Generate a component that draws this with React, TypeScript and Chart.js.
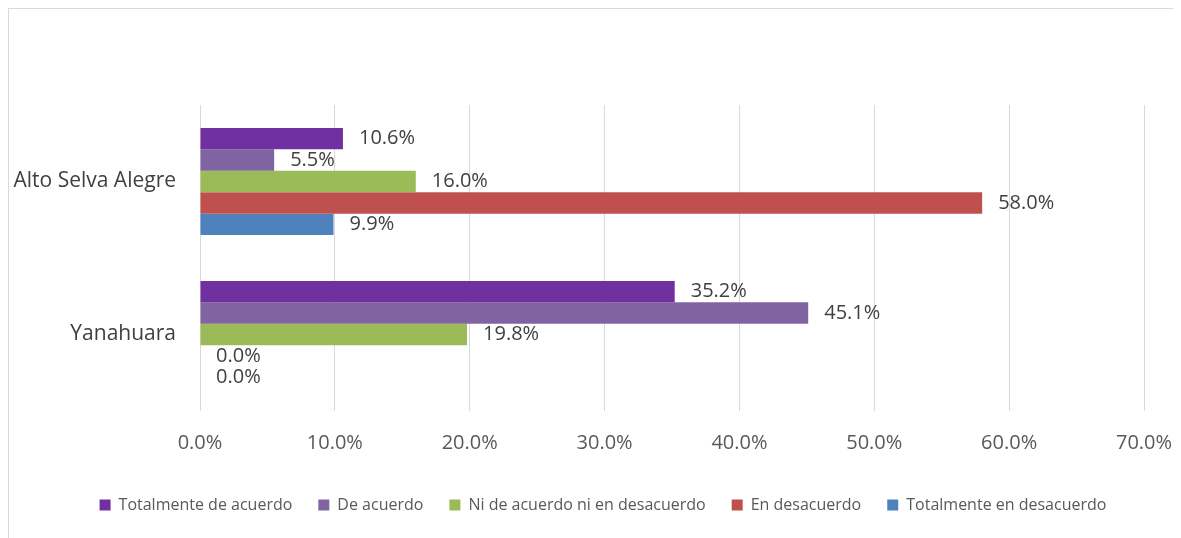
import React, { useEffect, useRef } from "react";
import { Chart, registerables } from "chart.js";

Chart.register(...registerables);

const categories = ["Alto Selva Alegre", "Yanahuara"];
const seriesNames = [
  "Totalmente de acuerdo",
  "De acuerdo",
  "Ni de acuerdo ni en desacuerdo",
  "En desacuerdo",
  "Totalmente en desacuerdo",
];
const totalmenteDeAcuerdo = [10.6, 35.2];
const deAcuerdo = [5.5, 45.1];
const niNi = [16.0, 19.8];
const enDesacuerdo = [58.0, 0.0];
const totalmenteEnDesacuerdo = [9.9, 0.0];
const seriesColors = ["#7030A0", "#8064A2", "#9BBB59", "#C0504D", "#4F81BD"];
const xTicks = [0, 10, 20, 30, 40, 50, 60, 70];

const FONT = "'Open Sans', sans-serif";

const labelPlugin = {
  id: "barValueLabels",
  afterDatasetsDraw(chart: any) {
    const ctx = chart.ctx;
    ctx.save();
    ctx.font = `20px ${FONT}`;
    ctx.fillStyle = "#404040";
    ctx.textAlign = "left";
    ctx.textBaseline = "middle";
    chart.data.datasets.forEach((ds: any, i: number) => {
      const meta = chart.getDatasetMeta(i);
      meta.data.forEach((el: any, j: number) => {
        const v = ds.data[j] as number;
        ctx.fillText(v.toFixed(1) + "%", el.x + 16, el.y);
      });
    });
    ctx.restore();
  },
};

const legendShift = {
  id: "legendShift",
  afterLayout(chart: any) {
    const l = chart.legend;
    if (!l) return;
    l.left = 16;
    l.right = chart.width;
    l.width = l.right - l.left;
  },
};

export default function App() {
  const ref = useRef<HTMLCanvasElement | null>(null);
  useEffect(() => {
    if (!ref.current) return;
    const values = [totalmenteDeAcuerdo, deAcuerdo, niNi, enDesacuerdo, totalmenteEnDesacuerdo];
    const chart = new Chart(ref.current, {
      type: "bar",
      data: {
        labels: categories,
        datasets: seriesNames.map((name, i) => ({
          label: name,
          data: values[i],
          backgroundColor: seriesColors[i],
          borderWidth: 0,
          barPercentage: 1,
          categoryPercentage: 0.7,
        })),
      },
      options: {
        indexAxis: "y",
        responsive: false,
        animation: false,
        layout: { padding: { top: 96, left: 0, right: 37, bottom: 15 } },
        scales: {
          x: {
            min: 0,
            max: 70,
            afterBuildTicks: (scale: any) => {
              scale.ticks = xTicks.map((v) => ({ value: v }));
            },
            afterFit: (scale: any) => {
              scale.height = 60;
              scale.paddingLeft = 0;
              scale.paddingRight = 0;
            },
            grid: { color: "#d9d9d9", lineWidth: 1, drawTicks: false },
            border: { display: false },
            ticks: {
              padding: 20,
              color: "#595959",
              font: { family: FONT, size: 20 },
              callback: (v: any) => Number(v).toFixed(1) + "%",
            },
          },
          y: {
            afterFit: (scale: any) => {
              scale.width = 191;
            },
            grid: { display: false, drawTicks: false },
            border: { display: false },
            ticks: {
              padding: 24,
              color: "#404040",
              font: { family: FONT, size: 21 },
            },
          },
        },
        plugins: {
          legend: {
            position: "bottom",
            labels: {
              boxWidth: 11,
              boxHeight: 11,
              padding: 26,
              color: "#595959",
              font: { family: FONT, size: 16 },
            },
          },
          tooltip: { enabled: false },
        },
      },
      plugins: [labelPlugin, legendShift],
    } as any);
    return () => chart.destroy();
  }, []);
  return (
    <div style={{ width: 1172, height: 529, borderLeft: "1px solid #d9d9d9", borderTop: "1px solid #d9d9d9" }}>
      <canvas ref={ref} width={1172} height={529} style={{ display: "block" }} />
    </div>
  );
}
